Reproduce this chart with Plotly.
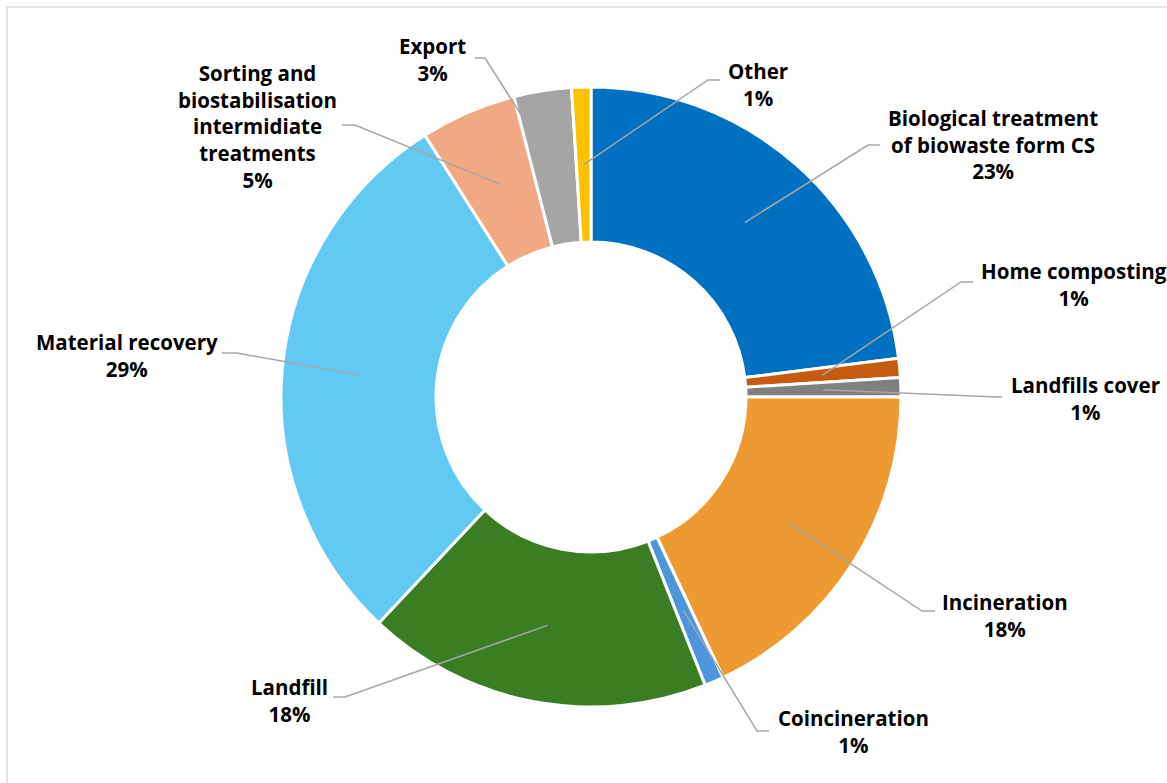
import math
import plotly.graph_objects as go

# Destination shares of the collected waste (percent)
categories = [
    "Biological treatment<br>of biowaste form CS",
    "Home composting",
    "Landfills cover",
    "Incineration",
    "Coincineration",
    "Landfill",
    "Material recovery",
    "Sorting and<br>biostabilisation<br>intermidiate<br>treatments",
    "Export",
    "Other",
]
shares = [23, 1, 1, 18, 1, 18, 29, 5, 3, 1]
colors = [
    "#0070C0", "#C55A11", "#808080", "#EE9A32", "#4C97DC",
    "#3B7D23", "#61C9F2", "#F1A983", "#A5A5A5", "#FFC000",
]

# Label block centres and the elbow of each leader line (pixels)
label_pos = [
    (993, 145), (1074, 284), (1085, 398), (1005, 615), (853, 731),
    (289, 700), (127, 355), (257, 126), (432, 60), (758, 85),
]
elbows = [
    ((880, 145), (868, 145)),
    ((973, 282), (961, 282)),
    ((1002, 397), (997, 397)),
    ((935, 611), (922, 611)),
    ((769, 731), (757, 731)),
    ((333, 697), (345, 697)),
    ((222, 353), (237, 353)),
    ((342, 125), (355, 125)),
    ((475, 58), (485, 58)),
    ((720, 80), (708, 80)),
]

W, H = 1167, 783
CX, CY, R = 591, 397, 310
HOLE = 0.5


def px(x):
    return x / W


def py(y):
    return 1 - y / H


fig = go.Figure()
fig.add_trace(go.Pie(
    labels=[c.replace("<br>", " ") for c in categories],
    values=shares,
    sort=False,
    direction="clockwise",
    rotation=0,
    hole=HOLE,
    marker=dict(colors=colors, line=dict(color="white", width=3)),
    textinfo="none",
    hoverinfo="label+percent",
    domain=dict(x=[px(CX - R), px(CX + R)], y=[py(CY + R), py(CY - R)]),
    showlegend=False,
))

total = sum(shares)
shapes = []
annotations = []
cum = 0.0
r_mid = R * (1 + HOLE) / 2
for cat, val, (lx, ly), (p0, p1) in zip(categories, shares, label_pos, elbows):
    mid = (cum + val / 2) / total * 2 * math.pi
    cum += val
    ex = CX + r_mid * math.sin(mid)
    ey = CY - r_mid * math.cos(mid)
    path = "M {} {} L {} {} L {} {}".format(
        px(p0[0]), py(p0[1]), px(p1[0]), py(p1[1]), px(ex), py(ey))
    shapes.append(dict(type="path", xref="paper", yref="paper", path=path,
                       line=dict(color="#A6A6A6", width=1.5), layer="above"))
    pct = round(val / total * 100)
    annotations.append(dict(
        x=px(lx), y=py(ly), xref="paper", yref="paper",
        text="<b>{}<br>{}%</b>".format(cat, pct),
        showarrow=False, xanchor="center", yanchor="middle", align="center",
        font=dict(family="Open Sans", size=20.5, color="#000000"),
    ))

# chart-area frame
shapes.append(dict(type="rect", xref="paper", yref="paper",
                   x0=px(7), y0=py(800), x1=px(1190), y1=py(7),
                   line=dict(color="#D9D9D9", width=1.5), layer="below"))

fig.update_layout(
    width=W, height=H,
    margin=dict(l=0, r=0, t=0, b=0),
    paper_bgcolor="white", plot_bgcolor="white",
    shapes=shapes, annotations=annotations,
)

fig.write_html("out.html")
